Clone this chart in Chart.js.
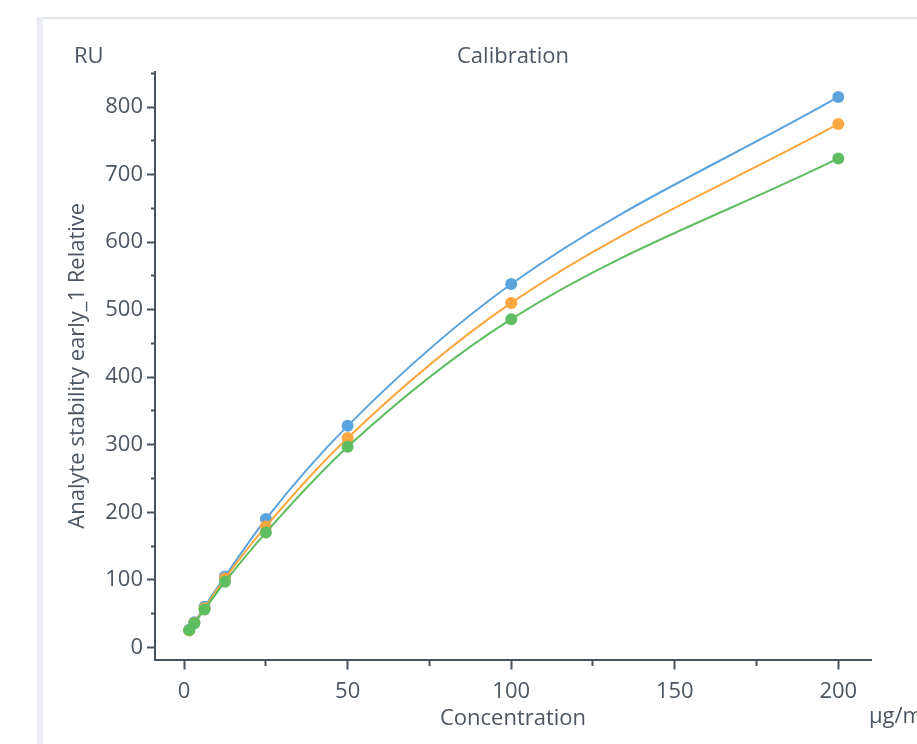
<!DOCTYPE html>
<html>
<head>
<meta charset="utf-8">
<script src="https://cdn.jsdelivr.net/npm/chart.js@4/dist/chart.umd.min.js"></script>
<style>
    html, body { margin: 0; padding: 0; background: #fff; }
    #frame { position: relative; width: 917px; height: 744px; overflow: hidden; }
    #sideBar { position: absolute; left: 37px; top: 17px; width: 6px; height: 727px; background: #e9edf1; }
    #topLine { position: absolute; left: 43px; top: 17px; width: 874px; height: 2px; background: #e2e5e8; }
    #calibrationChart { position: absolute; left: 0; top: 0; }
</style>
</head>
<body>
<div id="frame">
    <div id="sideBar"></div>
    <div id="topLine"></div>
    <canvas id="calibrationChart" width="917" height="744"></canvas>
</div>
<script>
// concentrations in µg/mL
const concentrations = [1.5625, 3.125, 6.25, 12.5, 25, 50, 100, 200];
const blueValues = [26, 37, 60, 105, 190, 328, 538, 815];
const orangeValues = [25, 36, 58, 102, 179, 310, 510, 775];
const greenValues = [25.5, 35.5, 56, 97, 170, 297, 486, 724];

const xTickLabels = [0, 50, 100, 150, 200];
const yTickLabels = [0, 100, 200, 300, 400, 500, 600, 700, 800];

const chartTitle = 'Calibration';
const yUnit = 'RU';
const xUnit = 'µg/mL';
const xAxisTitle = 'Concentration';
const yAxisTitle = 'Analyte stability early_1 Relative';

const textColor = '#4b5662';
const axisColor = '#46525e';
const fontFamily = '"Open Sans", "Noto Sans", sans-serif';

const toPoints = (values) => concentrations.map((c, i) => ({ x: c, y: values[i] }));

const makeDataset = (values, color) => ({
    data: toPoints(values),
    borderColor: color,
    backgroundColor: color,
    borderWidth: 2,
    pointRadius: 6,
    pointBorderWidth: 0,
    pointHoverRadius: 6,
    showLine: true,
    cubicInterpolationMode: 'monotone',
    fill: false
});

// draws the title and unit labels around the plot
const headerLabels = {
    id: 'headerLabels',
    afterDraw(chart) {
        const { ctx, chartArea } = chart;
        ctx.save();
        ctx.fillStyle = textColor;
        ctx.font = '22px ' + fontFamily;
        ctx.textBaseline = 'alphabetic';
        ctx.textAlign = 'left';
        ctx.fillText(yUnit, 74, 63);
        ctx.fillText(xUnit, 869, 723);
        ctx.textAlign = 'center';
        ctx.fillText(chartTitle, (chartArea.left + chartArea.right) / 2, 63);
        ctx.restore();
    }
};

const ctx = document.getElementById('calibrationChart').getContext('2d');
new Chart(ctx, {
    type: 'scatter',
    data: {
        datasets: [
            makeDataset(greenValues, '#5dbd60'),
            makeDataset(orangeValues, '#fba63f'),
            makeDataset(blueValues, '#5ba3dc')
        ]
    },
    options: {
        responsive: false,
        animation: false,
        layout: {
            padding: { left: 0, right: 46, top: 72, bottom: 0 }
        },
        plugins: {
            legend: { display: false },
            tooltip: { enabled: false }
        },
        scales: {
            x: {
                type: 'linear',
                min: -8.9,
                max: 210,
                afterFit: (scale) => { scale.height = 84.5; },
                border: { display: true, color: axisColor, width: 2 },
                grid: {
                    drawOnChartArea: false,
                    drawTicks: true,
                    tickLength: 10,
                    tickWidth: 2,
                    tickColor: axisColor,
                    tickBorderDash: (c) => xTickLabels.includes(c.tick.value) ? [] : [5, 100]
                },
                ticks: {
                    stepSize: 25,
                    includeBounds: false,
                    autoSkip: false,
                    maxRotation: 0,
                    padding: 9,
                    color: textColor,
                    font: { family: fontFamily, size: 22 },
                    callback: (value) => xTickLabels.includes(value) ? String(value) : ''
                },
                title: {
                    display: true,
                    text: xAxisTitle,
                    color: textColor,
                    font: { family: fontFamily, size: 22 },
                    padding: { top: 0, bottom: 12 }
                }
            },
            y: {
                type: 'linear',
                min: -18,
                max: 852,
                afterFit: (scale) => { scale.width = 155; },
                border: { display: true, color: axisColor, width: 2 },
                grid: {
                    drawOnChartArea: false,
                    drawTicks: true,
                    tickLength: 8,
                    tickWidth: 2,
                    tickColor: axisColor,
                    tickBorderDash: (c) => yTickLabels.includes(c.tick.value) ? [] : [0, 4, 4, 100]
                },
                ticks: {
                    stepSize: 50,
                    includeBounds: false,
                    autoSkip: false,
                    padding: 4,
                    color: textColor,
                    font: { family: fontFamily, size: 22 },
                    callback: (value) => yTickLabels.includes(value) ? String(value) : ''
                },
                title: {
                    display: true,
                    text: yAxisTitle,
                    color: textColor,
                    font: { family: fontFamily, size: 22 },
                    padding: { top: 65, bottom: 0 }
                }
            }
        }
    },
    plugins: [headerLabels]
});
</script>
</body>
</html>
